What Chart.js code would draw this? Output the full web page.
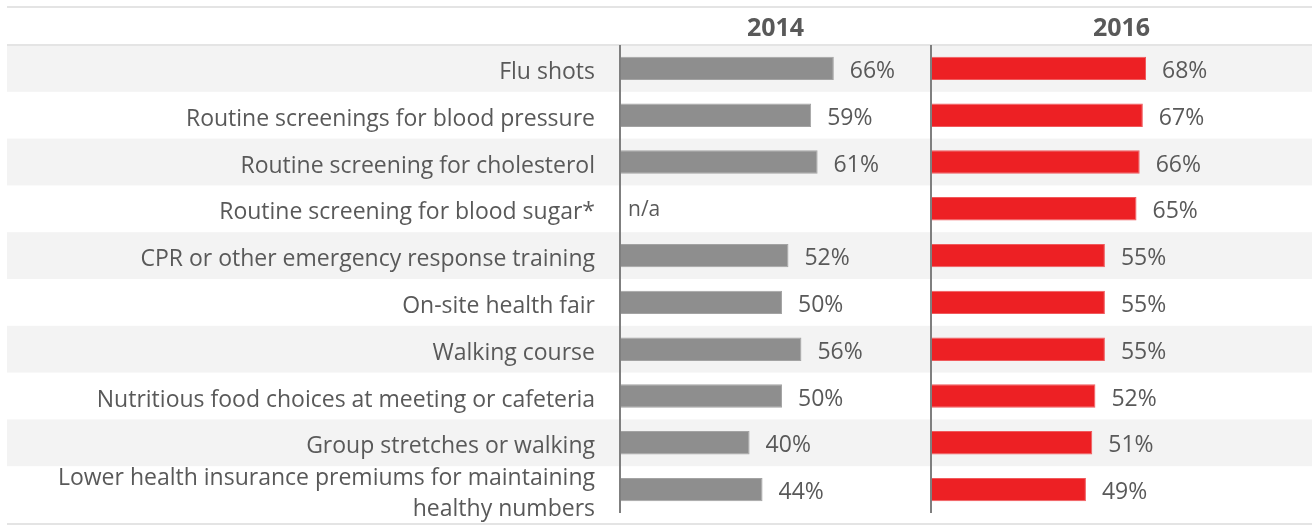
<!DOCTYPE html>
<html lang="en">
    <head>
        <meta charset="utf-8" />
        <title>Wellness programs offered, 2014 vs 2016</title>
        <script src="https://cdn.jsdelivr.net/npm/chart.js@4.4.1/dist/chart.umd.min.js"></script>
        <style>
            html,
            body {
                margin: 0;
                padding: 0;
                background: #ffffff;
            }
            .chart-wrap {
                position: relative;
                width: 1312px;
                height: 525px;
            }
        </style>
    </head>
    <body>
        <div class="chart-wrap">
            <canvas id="programChart"></canvas>
        </div>

        <script>
            // categories (top to bottom)
            const programs = [
                "Flu shots",
                "Routine screenings for blood pressure",
                "Routine screening for cholesterol",
                "Routine screening for blood sugar*",
                "CPR or other emergency response training",
                "On-site health fair",
                "Walking course",
                "Nutritious food choices at meeting or cafeteria",
                "Group stretches or walking",
                ["Lower health insurance premiums for maintaining", "healthy numbers"],
            ];

            const years = ["2014", "2016"];

            // percentages, null = not asked that year
            const share2014 = [66, 59, 61, null, 52, 50, 56, 50, 40, 44];
            const share2016 = [68, 67, 66, 65, 55, 55, 55, 52, 51, 49];

            const textGrey = "#595959";
            const lineGrey = "#e4e4e4";

            Chart.defaults.font.family = "'Open Sans', sans-serif";
            Chart.defaults.color = textGrey;

            // striped rows + header rules behind everything
            const rowBands = {
                id: "rowBands",
                beforeDraw(chart) {
                    const { ctx, chartArea, width } = chart;
                    const y = chart.scales.y;
                    const half =
                        (y.getPixelForValue(1) - y.getPixelForValue(0)) / 2;
                    ctx.save();
                    ctx.fillStyle = "#f3f3f3";
                    programs.forEach((p, i) => {
                        if (i % 2 === 0) {
                            const c = y.getPixelForValue(i);
                            ctx.fillRect(7, c - half, width - 7, half * 2);
                        }
                    });
                    ctx.fillStyle = lineGrey;
                    ctx.fillRect(7, 6, width - 7, 2);
                    ctx.fillRect(7, chartArea.top - 1, width - 7, 2);
                    ctx.fillRect(7, chartArea.bottom + 10, width - 7, 2);
                    ctx.restore();
                },
            };

            // percentage labels to the right of each bar
            const valueLabels = {
                id: "valueLabels",
                afterDatasetsDraw(chart) {
                    const { ctx } = chart;
                    const y = chart.scales.y;
                    ctx.save();
                    ctx.fillStyle = textGrey;
                    ctx.textAlign = "left";
                    ctx.textBaseline = "middle";
                    chart.data.datasets.forEach((ds, di) => {
                        const meta = chart.getDatasetMeta(di);
                        const x = chart.scales[ds.xAxisID];
                        ds.data.forEach((v, i) => {
                            const cy = y.getPixelForValue(i);
                            if (v === null) {
                                ctx.font = "21px 'Open Sans', sans-serif";
                                ctx.fillText("n/a", x.getPixelForValue(0) + 8, cy + 1);
                                return;
                            }
                            ctx.font = "23px 'Open Sans', sans-serif";
                            ctx.fillText(v + "%", meta.data[i].x + 16, cy + 3);
                        });
                    });
                    ctx.restore();
                },
            };

            const zeroLine = (c) =>
                c.tick && c.tick.value === 0 ? "#7f7f7f" : "transparent";

            new Chart(document.getElementById("programChart"), {
                type: "bar",
                data: {
                    labels: programs,
                    datasets: [
                        {
                            label: years[0],
                            data: share2014,
                            xAxisID: "x1",
                            backgroundColor: "#8e8e8e",
                            borderColor: "#a3a3a3",
                            borderWidth: 1,
                            grouped: false,
                            barPercentage: 0.5,
                            categoryPercentage: 1,
                        },
                        {
                            label: years[1],
                            data: share2016,
                            xAxisID: "x2",
                            backgroundColor: "#ed2024",
                            borderColor: "#f05a5c",
                            borderWidth: 1,
                            grouped: false,
                            barPercentage: 0.5,
                            categoryPercentage: 1,
                        },
                    ],
                },
                options: {
                    indexAxis: "y",
                    responsive: true,
                    maintainAspectRatio: false,
                    animation: false,
                    layout: {
                        padding: { top: 3, right: 0, bottom: 12, left: 0 },
                    },
                    plugins: {
                        legend: { display: false },
                        tooltip: { enabled: false },
                    },
                    scales: {
                        y: {
                            position: "left",
                            grid: { display: false, drawTicks: false },
                            border: { display: false },
                            ticks: {
                                autoSkip: false,
                                padding: 25,
                                labelOffset: 4,
                                color: textGrey,
                                font: { size: 23, lineHeight: 1.35 },
                            },
                            afterFit: (scale) => {
                                // fixed label column, rows fill the full height
                                scale.width = 620;
                                scale.paddingTop = 0;
                                scale.paddingBottom = 0;
                            },
                        },
                        x1: {
                            type: "linear",
                            position: "top",
                            stack: "years",
                            stackWeight: 311,
                            weight: 2,
                            min: 0,
                            max: 96,
                            ticks: { display: false },
                            border: { display: false },
                            grid: { color: zeroLine, lineWidth: 2, drawTicks: false },
                            title: {
                                display: true,
                                text: years[0],
                                color: textGrey,
                                font: { size: 25, weight: "bold" },
                                padding: { top: 11, bottom: 1 },
                            },
                        },
                        x2: {
                            type: "linear",
                            position: "top",
                            stack: "years",
                            stackWeight: 381,
                            weight: 1,
                            min: 0,
                            max: 120.5,
                            ticks: { display: false },
                            border: { display: false },
                            grid: { color: zeroLine, lineWidth: 2, drawTicks: false },
                            title: {
                                display: true,
                                text: years[1],
                                color: textGrey,
                                font: { size: 25, weight: "bold" },
                                padding: { top: 11, bottom: 1 },
                            },
                        },
                    },
                },
                plugins: [rowBands, valueLabels],
            });
        </script>
    </body>
</html>
